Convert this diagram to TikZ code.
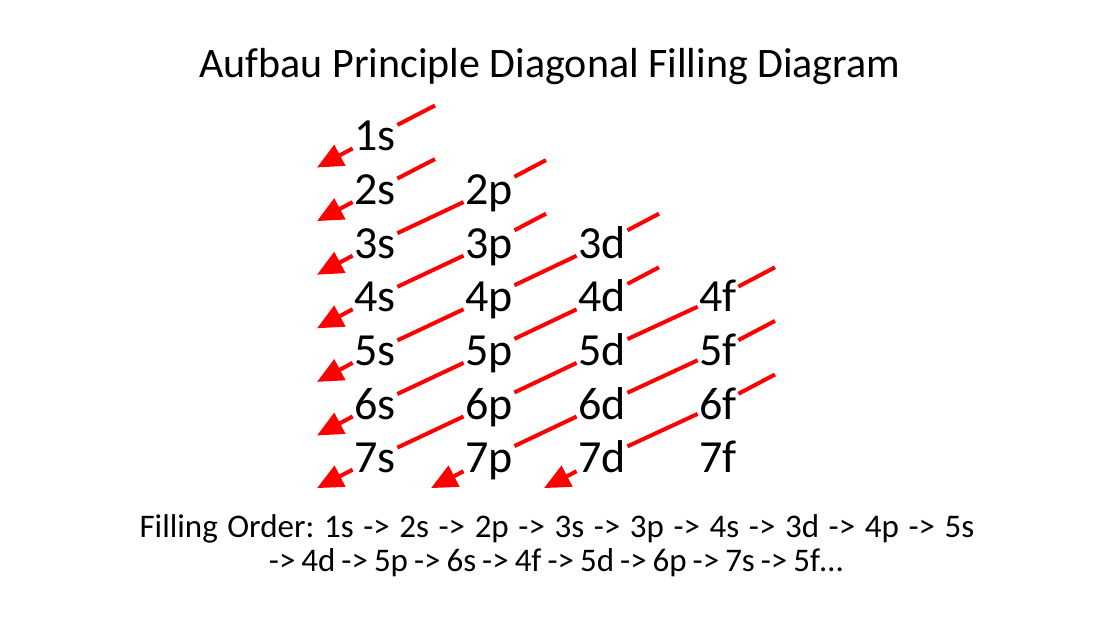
\documentclass[tikz,border=0pt]{standalone}
\usepackage{fontspec}
\setmainfont{Carlito}[Ligatures={NoCommon}]
\usetikzlibrary{arrows.meta}
\frenchspacing
\begin{document}
\begin{tikzpicture}[x=1pt,y=-1pt,
  orb/.style={font=\fontsize{46}{46}\selectfont, text height=29pt, text depth=0pt, inner sep=1.5pt, fill=white},
  diag/.style={draw=red, line width=4pt},
  diagarrow/.style={diag, -{Triangle[length=26pt,width=23pt]}},
  titletext/.style={font=\fontsize{42}{48}\selectfont, anchor=base},
  ordertext/.style={font=\fontsize{33}{38}\selectfont, anchor=base},
]
\useasboundingbox (0,0) rectangle (1102,620);
\fill[white] (0,0) rectangle (1102,620);

\node[titletext] (title) at (550,78) {Aufbau Principle Diagonal Filling Diagram};

% orbitals
\foreach \n in {1,...,7} {\node[orb] (s\n) at (375,{136.5+53.6*(\n-1)}) {\n s};}
\foreach \n in {2,...,7} {\node[orb] (p\n) at (489,{136.5+53.6*(\n-1)}) {\n p};}
\foreach \n in {3,...,7} {\node[orb] (d\n) at (602,{136.5+53.6*(\n-1)}) {\n d};}
\foreach \n in {4,...,7} {\node[orb] (f\n) at (718,{136.5+53.6*(\n-1)}) {\n f};}

% start and end points of the diagonals
\coordinate (b1) at ([shift={(60,-31)}]s1.center);
\coordinate (b2) at ([shift={(60,-31)}]s2.center);
\coordinate (b3) at ([shift={(57,-30)}]p2.center);
\coordinate (b4) at ([shift={(57,-30)}]p3.center);
\coordinate (b5) at ([shift={(57,-30)}]d3.center);
\coordinate (b6) at ([shift={(57,-30)}]d4.center);
\coordinate (b7) at ([shift={(57,-30)}]f4.center);
\coordinate (b8) at ([shift={(57,-30)}]f5.center);
\coordinate (b9) at ([shift={(57,-30)}]f6.center);
\coordinate (e1) at ([shift={(-58,31)}]s1.center);
\coordinate (e2) at ([shift={(-58,31)}]s2.center);
\coordinate (e3) at ([shift={(-58,31)}]s3.center);
\coordinate (e4) at ([shift={(-58,31)}]s4.center);
\coordinate (e5) at ([shift={(-58,31)}]s5.center);
\coordinate (e6) at ([shift={(-58,31)}]s6.center);
\coordinate (e7) at ([shift={(-58,30)}]s7.center);
\coordinate (e8) at ([shift={(-58,30)}]p7.center);
\coordinate (e9) at ([shift={(-58,30)}]d7.center);

\draw[diagarrow] (b1) -- (s1) -- (e1);
\draw[diagarrow] (b2) -- (s2) -- (e2);
\draw[diagarrow] (b3) -- (p2) -- (s3) -- (e3);
\draw[diagarrow] (b4) -- (p3) -- (s4) -- (e4);
\draw[diagarrow] (b5) -- (d3) -- (p4) -- (s5) -- (e5);
\draw[diagarrow] (b6) -- (d4) -- (p5) -- (s6) -- (e6);
\draw[diagarrow] (b7) -- (f4) -- (d5) -- (p6) -- (s7) -- (e7);
\draw[diagarrow] (b8) -- (f5) -- (d6) -- (p7) -- (e8);
\draw[diagarrow] (b9) -- (f6) -- (d7) -- (e9);

\node[ordertext] (order1) at (557,537) {\spaceskip=9.6pt Filling Order: 1s -> 2s -> 2p -> 3s -> 3p -> 4s -> 3d -> 4p -> 5s};
\node[ordertext] (order2) at (556,571) {\spaceskip=6pt -> 4d -> 5p -> 6s -> 4f -> 5d -> 6p -> 7s -> 5f…};
\end{tikzpicture}
\end{document}
